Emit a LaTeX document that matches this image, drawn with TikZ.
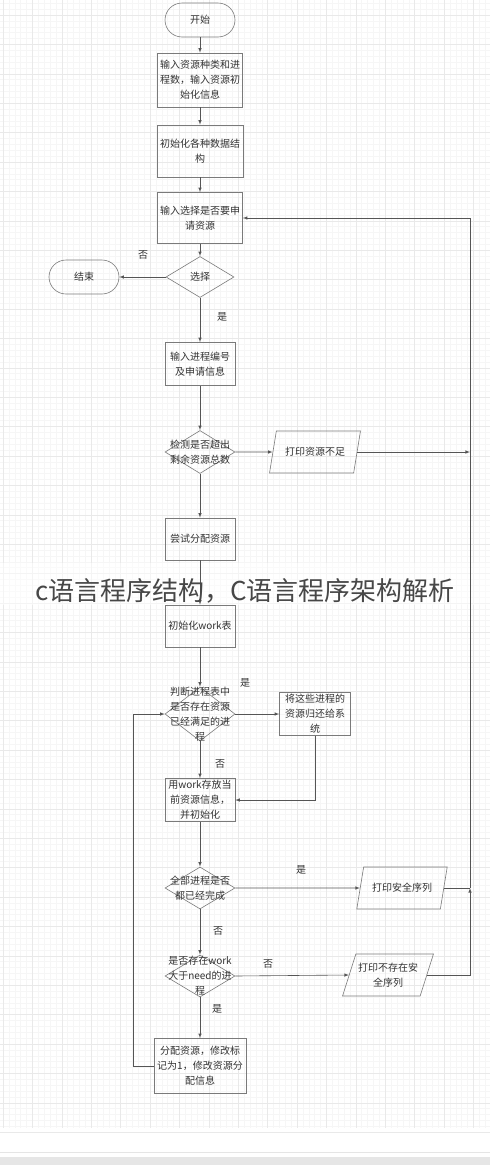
\documentclass[tikz,border=0pt]{standalone}
\usepackage{fontspec}
\setmainfont{Noto Sans CJK SC}
\usepackage{tikz}
\usetikzlibrary{shapes.geometric}
\definecolor{textgray}{HTML}{333333}
\definecolor{boxgray}{HTML}{7A7A7A}
\definecolor{linegray}{HTML}{555555}
\definecolor{gridminor}{HTML}{F6F6F6}
\definecolor{gridmajor}{HTML}{E9E9E9}
\definecolor{bottomgray}{HTML}{E6E6E6}

\begin{document}
\begin{tikzpicture}[x=1pt,y=-1pt,
  every node/.style={font=\fontsize{10}{15}\selectfont,text=textgray},
  terminal/.style={draw=boxgray,rectangle,rounded corners=17pt,minimum width=70pt,minimum height=34pt,line width=0.6pt},
  process/.style={draw=boxgray,rectangle,align=center,inner sep=1pt,line width=0.6pt},
  decision/.style={draw=boxgray,diamond,inner sep=0pt,minimum width=70pt,minimum height=42pt,line width=0.6pt},
  io/.style={draw=boxgray,trapezium,trapezium left angle=64,trapezium right angle=116,trapezium stretches=true,minimum width=91pt,minimum height=42pt,align=center,inner sep=1pt,line width=0.6pt},
  txt/.style={align=center,inner sep=0pt},
  lbl/.style={inner sep=0pt},
  arr/.style={-latex,draw=linegray,line width=0.6pt}]
\useasboundingbox (0,0) rectangle (490,1165);
\fill[white] (0,0) rectangle (490,1165);
% grid background
\foreach \i in {0,...,83} \draw[gridminor,line width=0.4pt] (3+\i*5.88,0) -- (3+\i*5.88,1128);
\foreach \i in {0,...,191} \draw[gridminor,line width=0.4pt] (0,3.2+\i*5.88) -- (490,3.2+\i*5.88);
\foreach \i in {0,...,16} \draw[gridmajor,line width=0.5pt] (3+\i*29.4,0) -- (3+\i*29.4,1128);
\foreach \i in {0,...,38} \draw[gridmajor,line width=0.5pt] (0,15+\i*29.4) -- (490,15+\i*29.4);
\fill[white,opacity=0.5] (0,563) rectangle (490,605);
\draw[gray!20] (0,1152) -- (490,1152);
\fill[bottomgray] (0,1157) rectangle (490,1165);

% nodes
\node[terminal] (start) at (200,20) {开始};
\node[process,minimum width=85pt,minimum height=54pt] (info) at (200,80) {输入资源种类和进\\程数，输入资源初\\始化信息};
\node[process,minimum width=86pt,minimum height=52pt] (initds) at (200,151) {初始化各种数据结\\构};
\node[process,minimum width=85pt,minimum height=51pt] (ask) at (200,218) {输入选择是否要申\\请资源};
\node[decision,minimum width=68pt,minimum height=41pt,label={[txt]center:选择}] (sel) at (200,277) {};
\node[terminal] (finish) at (84,277) {结束};
\node[process,minimum width=70pt,minimum height=43pt] (req) at (200,364) {输入进程编号\\及申请信息};
\node[decision,minimum height=43pt,label={[txt]center:{检测是否超出\\剩余资源总数}}] (check) at (200,452) {};
\node[io] (short) at (315,452) {打印资源不足};
\node[process,minimum width=70pt,minimum height=42pt] (try) at (200,539) {尝试分配资源};
\node[process,minimum width=70pt,minimum height=42pt] (initw) at (200,626) {初始化work表};
\node[decision,minimum height=54pt,label={[txt]center:{判断进程表中\\是否存在资源\\已经满足的进\\程}}] (judge) at (200,714) {};
\node[process,minimum width=71pt,minimum height=43pt] (back) at (315,714) {将这些进程的\\资源归还给系\\统};
\node[process,minimum width=70pt,minimum height=43pt] (work) at (200,800) {用work存放当\\前资源信息，\\并初始化};
\node[decision,label={[txt]center:{全部进程是否\\都已经完成}}] (all) at (200,888) {};
\node[io] (safe) at (402,888) {打印安全序列};
\node[decision,label={[txt]center:{是否存在work\\大于need的进\\程}}] (exist) at (200,976) {};
\node[io] (nosafe) at (388,975) {打印不存在安\\全序列};
\node[process,minimum width=92pt,minimum height=55pt] (alloc) at (200,1066) {分配资源，修改标\\记为1，修改资源分\\配信息};
\coordinate (rail) at (470,218);
\coordinate (loop) at (133,714);

% labels
\node[lbl] (no1) at (143,255) {否};
\node[lbl] (yes1) at (222,317) {是};
\node[lbl] (yes2) at (245,683) {是};
\node[lbl] (no2) at (220,764) {否};
\node[lbl] (yes3) at (301,870) {是};
\node[lbl] (no3) at (218,931) {否};
\node[lbl] (no4) at (268,964) {否};
\node[lbl] (yes4) at (217,1009) {是};

% connectors
\draw[arr] (start) -- (info);
\draw[arr] (info) -- (initds);
\draw[arr] (initds) -- (ask);
\draw[arr] (ask) -- (sel);
\draw[arr] (sel.west) -- (finish.east);
\draw[arr] (sel.south) -- (req.north);
\draw[arr] (req) -- (check.north);
\draw[arr] (check.east) -- (short.west);
\draw[arr] (short.east) -- (short.east -| rail);
\draw[arr] (check.south) -- (try.north);
\draw[arr] (try) -- (initw);
\draw[arr] (initw) -- (judge.north);
\draw[arr] (judge.east) -- (back.west);
\draw[arr] (back.south) |- (work.east);
\draw[arr] (judge.south) -- (work.north);
\draw[arr] (work) -- (all.north);
\draw[arr] (all.east) -- (safe.west);
\draw[arr] (all.south) -- (exist.north);
\draw[arr] (exist.east) -- (nosafe.west);
\draw[arr] (exist.south) -- (alloc.north);
\draw[arr] (alloc.west) -| (loop) -- (judge.west);
\draw[linegray,line width=0.6pt] (safe.east) -- (safe.east -| rail);
\draw[arr] (nosafe.east) -| (safe.east -| rail);
\draw[arr] (safe.east -| rail) -- (rail) -- (ask.east);

% watermark
\node[font=\fontsize{26}{30}\selectfont,text=textgray!90] (mark) at (245,591) {c语言程序结构，C语言程序架构解析};
\end{tikzpicture}
\end{document}
